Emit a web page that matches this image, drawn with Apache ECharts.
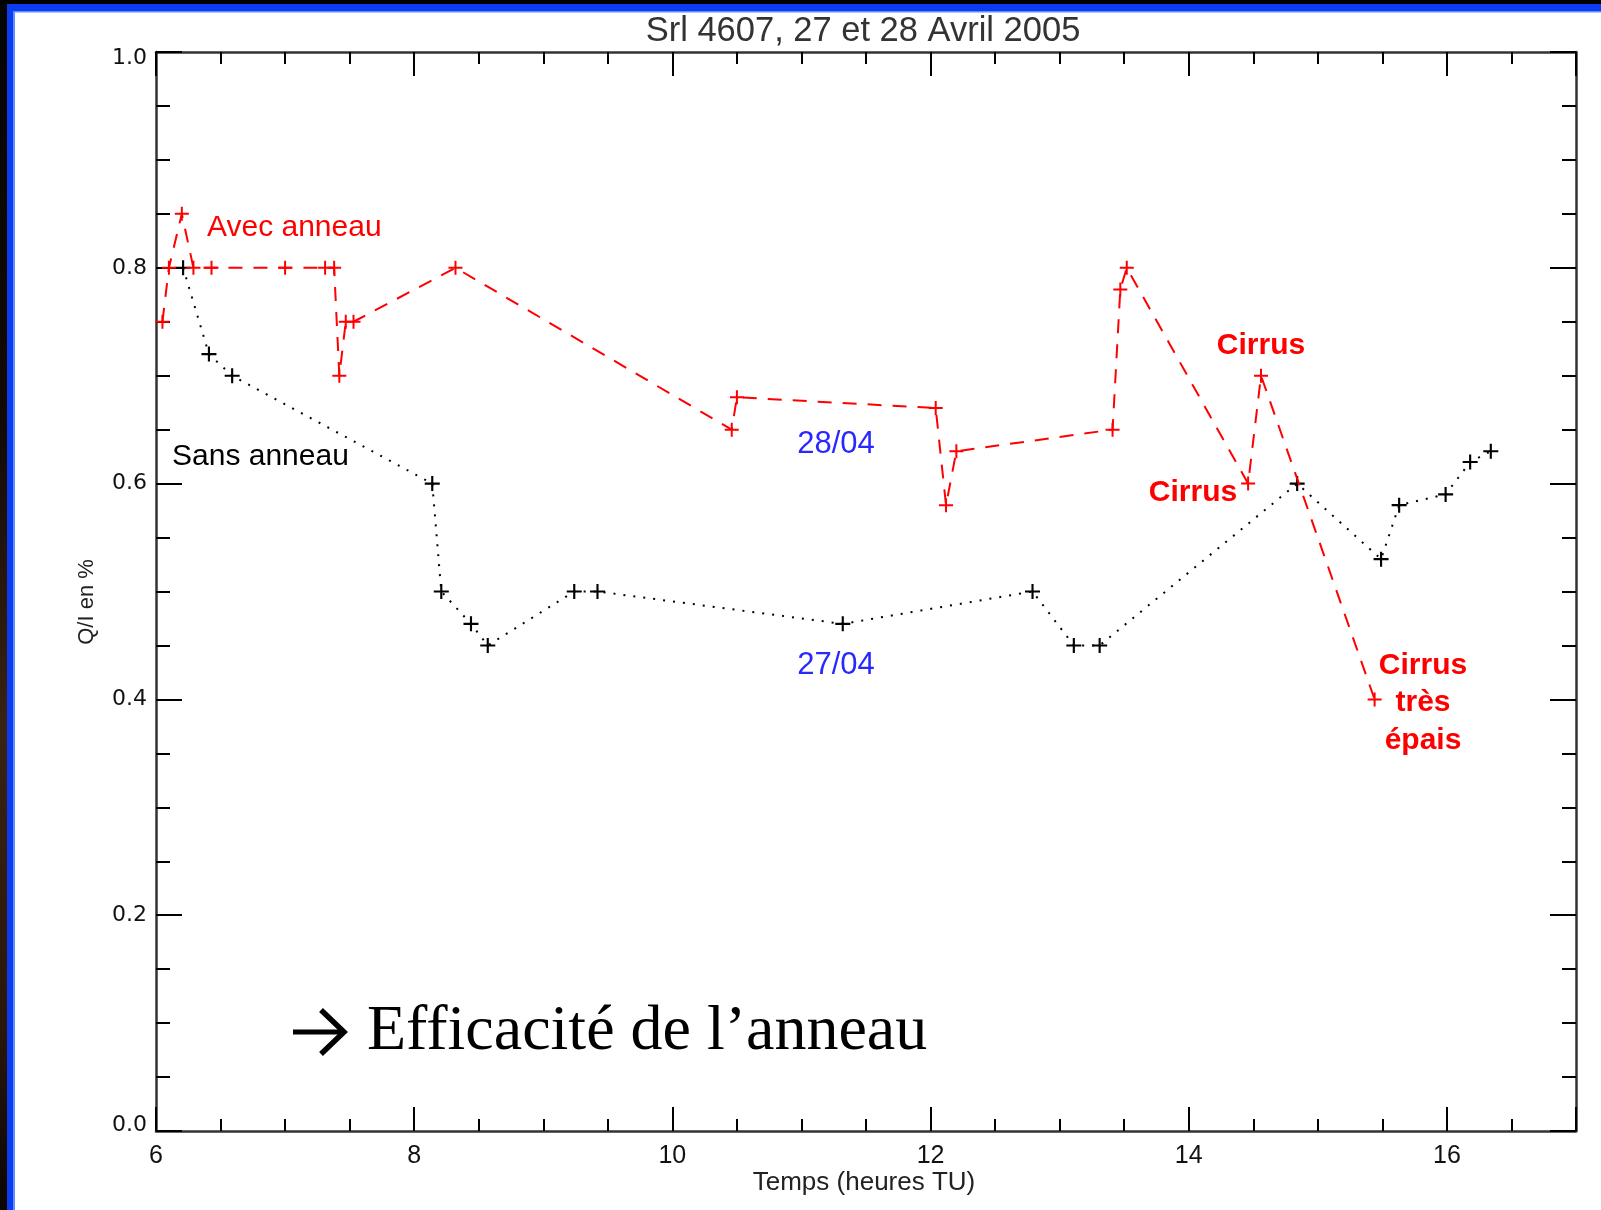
<!DOCTYPE html>
<html>
<head>
<meta charset="utf-8">
<script src="https://cdn.jsdelivr.net/npm/echarts@6/dist/echarts.min.js"></script>
<style>
html,body{margin:0;padding:0;background:#fff;}
#chart{width:1601px;height:1210px;}
</style>
</head>
<body>
<div id="chart"></div>
<script>
// ---- Data ----
// "Avec anneau" (28/04) – red dashed
const hoursAvec = [6.05, 6.10, 6.20, 6.29, 6.43, 7.00, 7.31, 7.38, 7.42, 7.47, 7.53, 8.32, 10.46, 10.50, 12.04, 12.12, 12.20, 13.41, 13.47, 13.52, 14.46, 14.56, 15.44];
const qiAvec    = [0.75, 0.80, 0.85, 0.80, 0.80, 0.80, 0.80, 0.80, 0.70, 0.75, 0.75, 0.80, 0.65, 0.68, 0.67, 0.58, 0.63, 0.65, 0.78, 0.80, 0.60, 0.70, 0.40];
// "Sans anneau" (27/04) – black dotted
const hoursSans = [6.21, 6.41, 6.59, 8.14, 8.21, 8.44, 8.57, 9.24, 9.42, 11.32, 12.79, 13.11, 13.31, 14.84, 15.49, 15.63, 15.99, 16.18, 16.34];
const qiSans    = [0.80, 0.72, 0.70, 0.60, 0.50, 0.47, 0.45, 0.50, 0.50, 0.47, 0.50, 0.45, 0.45, 0.60, 0.53, 0.58, 0.59, 0.62, 0.63];
// tick labels
const xTickLabels = [6, 8, 10, 12, 14, 16];
const yTickLabels = ['0.0', '0.2', '0.4', '0.6', '0.8', '1.0'];
// texts
const titleText = 'Srl 4607, 27 et 28 Avril 2005';
const xName = 'Temps (heures TU)';
const yName = 'Q/I en %';

const plusSymbol = 'path://M0,6H14V8H0Z M6,0H8V14H6Z';
const chart = echarts.init(document.getElementById('chart'), null, {renderer: 'canvas'});

const axisLineStyle = {color: '#333333', width: 2.5};
const tickStyle = {color: '#000', width: 2};

function xAxisDef(pos, interval, len, withLine, withLabel) {
  return {
    type: 'value', position: pos, min: 6, max: 17, interval: interval,
    axisLine: {show: withLine, onZero: false, lineStyle: axisLineStyle},
    axisTick: {show: true, inside: true, length: len, lineStyle: tickStyle},
    minorTick: {show: false},
    splitLine: {show: false},
    axisLabel: withLabel ? {
      show: true, margin: 13, fontSize: 25, color: '#111', fontFamily: 'Liberation Sans',
      formatter: v => xTickLabels.indexOf(v) >= 0 ? String(v) : ''
    } : {show: false}
  };
}
function yAxisDef(pos, withLabel) {
  return {
    type: 'value', position: pos, min: 0, max: 1, interval: 0.2,
    axisLine: {show: true, onZero: false, lineStyle: axisLineStyle},
    axisTick: {show: true, inside: true, length: 26, lineStyle: tickStyle},
    minorTick: {show: true, splitNumber: 4, length: 14, lineStyle: tickStyle},
    splitLine: {show: false},
    axisLabel: withLabel ? {
      show: true, margin: 9, fontSize: 22, color: '#111', fontFamily: 'DejaVu Sans',
      formatter: v => {
        const i = Math.round(v / 0.2);
        const t = yTickLabels[i];
        if (i === 0) return '{lo|' + t + '}';
        if (i === yTickLabels.length - 1) return '{hi|' + t + '}';
        return t;
      },
      rich: {
        lo: {fontSize: 22, fontFamily: 'DejaVu Sans', color: '#111', padding: [0, 0, 12, 0]},
        hi: {fontSize: 22, fontFamily: 'DejaVu Sans', color: '#111', padding: [12, 0, 0, 0]}
      }
    } : {show: false}
  };
}

const redFont = '30px "Liberation Sans"';
const boldRed = 'bold 30px "Liberation Sans"';

chart.setOption({
  animation: false,
  backgroundColor: '#ffffff',
  grid: {left: 156, right: 25, top: 52, bottom: 79, containLabel: false},
  xAxis: [
    xAxisDef('bottom', 2, 24, true, true),
    xAxisDef('bottom', 0.5, 12, false, false),
    xAxisDef('top', 2, 24, true, false),
    xAxisDef('top', 0.5, 12, false, false)
  ],
  yAxis: [yAxisDef('left', true), yAxisDef('right', false)],
  series: [
    {
      name: 'Sans anneau', type: 'line', xAxisIndex: 0, yAxisIndex: 0,
      data: hoursSans.map((h, i) => [h, qiSans[i]]),
      symbol: plusSymbol, symbolSize: 15, showAllSymbol: true,
      itemStyle: {color: '#000'},
      lineStyle: {color: '#000', width: 2, type: [2, 8]},
      emphasis: {disabled: true}, z: 3
    },
    {
      name: 'Avec anneau', type: 'line', xAxisIndex: 0, yAxisIndex: 0,
      data: hoursAvec.map((h, i) => [h, qiAvec[i]]),
      symbol: plusSymbol, symbolSize: 14, showAllSymbol: true,
      itemStyle: {color: '#ff0000'},
      lineStyle: {color: '#ff0000', width: 2, type: [14, 11]},
      emphasis: {disabled: true}, z: 4
    }
  ],
  graphic: [
    // frame decoration
    {type: 'rect', shape: {x: 0, y: 0, width: 7, height: 1210}, style: {fill: new echarts.graphic.LinearGradient(0, 0, 0, 1, [
      {offset: 0, color: '#050505'}, {offset: 0.35, color: '#120a06'}, {offset: 0.6, color: '#3a2214'},
      {offset: 0.85, color: '#2a160c'}, {offset: 1, color: '#0a0604'}])}, silent: true},
    {type: 'rect', shape: {x: 7, y: 0, width: 7, height: 1210}, style: {fill: '#0b3cf0'}, silent: true},
    {type: 'rect', shape: {x: 13, y: 11, width: 2, height: 1199}, style: {fill: '#5f8dff'}, silent: true},
    {type: 'rect', shape: {x: 0, y: 0, width: 1601, height: 4}, style: {fill: '#000'}, silent: true},
    {type: 'rect', shape: {x: 7, y: 4, width: 1594, height: 7}, style: {fill: '#0b3cf0'}, silent: true},
    {type: 'rect', shape: {x: 13, y: 11, width: 1588, height: 1.5}, style: {fill: '#5f8dff'}, silent: true},
    // titles
    {type: 'text', style: {text: titleText, x: 863, y: 31, font: '34.5px "Liberation Sans"', fill: '#333', textAlign: 'center', textVerticalAlign: 'middle'}},
    {type: 'text', style: {text: xName, x: 864, y: 1183, font: '26px "Liberation Sans"', fill: '#222', textAlign: 'center', textVerticalAlign: 'middle'}},
    {type: 'text', rotation: Math.PI / 2, x: 87, y: 602, style: {text: yName, x: 0, y: 0, font: '22px "Liberation Sans"', fill: '#222', textAlign: 'center', textVerticalAlign: 'middle'}},
    // annotations
    {type: 'text', style: {text: 'Avec anneau', x: 207, y: 228, font: redFont, fill: '#ff0000', textAlign: 'left', textVerticalAlign: 'middle'}, z: 10},
    {type: 'text', style: {text: 'Sans anneau', x: 172, y: 457, font: redFont, fill: '#000', textAlign: 'left', textVerticalAlign: 'middle'}, z: 10},
    {type: 'text', style: {text: '28/04', x: 836, y: 444, font: '31px "Liberation Sans"', fill: '#2828ff', textAlign: 'center', textVerticalAlign: 'middle'}, z: 10},
    {type: 'text', style: {text: '27/04', x: 836, y: 665, font: '31px "Liberation Sans"', fill: '#2828ff', textAlign: 'center', textVerticalAlign: 'middle'}, z: 10},
    {type: 'text', style: {text: 'Cirrus', x: 1261, y: 346, font: boldRed, fill: '#ff0000', textAlign: 'center', textVerticalAlign: 'middle'}, z: 10},
    {type: 'text', style: {text: 'Cirrus', x: 1193, y: 493, font: boldRed, fill: '#ff0000', textAlign: 'center', textVerticalAlign: 'middle'}, z: 10},
    {type: 'text', style: {text: 'Cirrus', x: 1423, y: 666, font: boldRed, fill: '#ff0000', textAlign: 'center', textVerticalAlign: 'middle'}, z: 10},
    {type: 'text', style: {text: 'très', x: 1423, y: 703, font: boldRed, fill: '#ff0000', textAlign: 'center', textVerticalAlign: 'middle'}, z: 10},
    {type: 'text', style: {text: 'épais', x: 1423, y: 741, font: boldRed, fill: '#ff0000', textAlign: 'center', textVerticalAlign: 'middle'}, z: 10},
    // conclusion
    {type: 'polyline', shape: {points: [[293, 1032], [343, 1032]]}, style: {stroke: '#000', lineWidth: 5, fill: null}, z: 10},
    {type: 'polyline', shape: {points: [[321, 1010], [344, 1032], [321, 1054]]}, style: {stroke: '#000', lineWidth: 5.5, fill: null, lineJoin: 'miter'}, z: 10},
    {type: 'text', style: {text: 'Efficacité de l’anneau', x: 367, y: 1032, font: '64px "Liberation Serif"', fill: '#000', textAlign: 'left', textVerticalAlign: 'middle'}, z: 10}
  ]
});
</script>
</body>
</html>
